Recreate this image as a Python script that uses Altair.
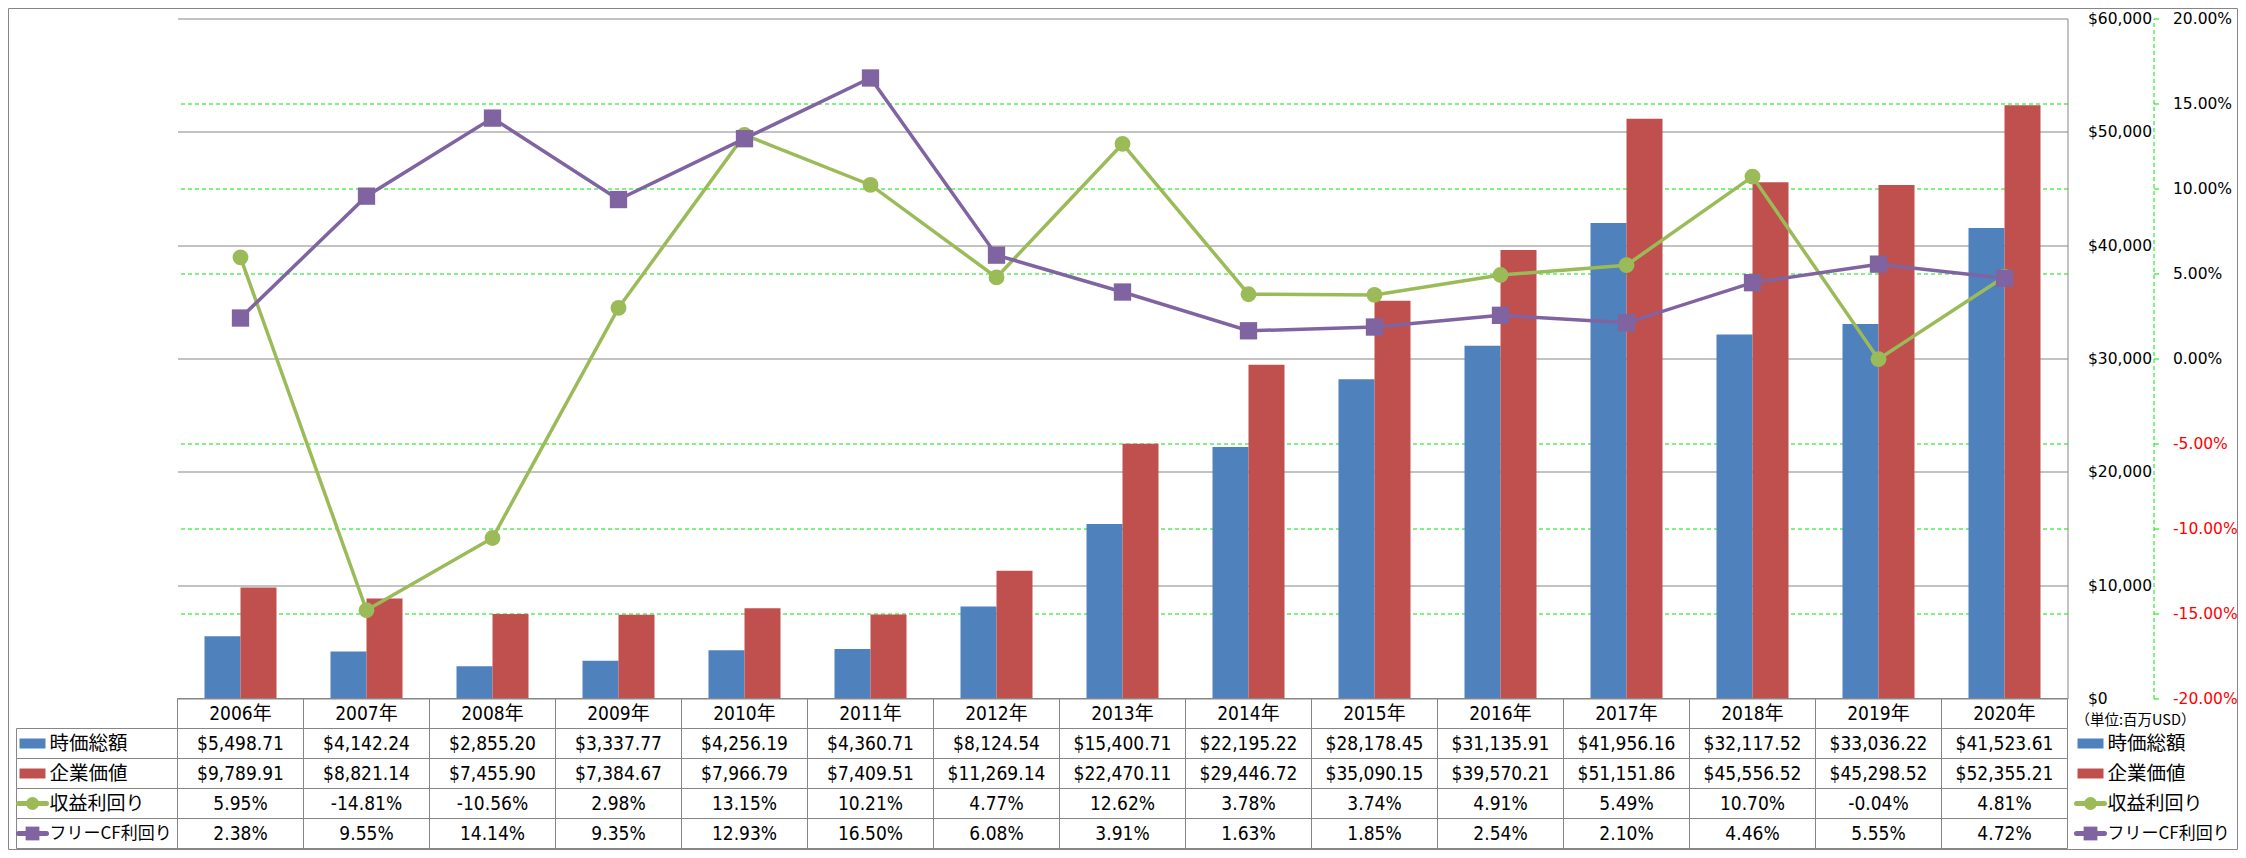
import altair as alt
import pandas as pd

# ---------------- data ----------------
years = ["2006年", "2007年", "2008年", "2009年", "2010年", "2011年", "2012年", "2013年",
         "2014年", "2015年", "2016年", "2017年", "2018年", "2019年", "2020年"]
market_cap = [5498.71, 4142.24, 2855.20, 3337.77, 4256.19, 4360.71, 8124.54, 15400.71,
              22195.22, 28178.45, 31135.91, 41956.16, 32117.52, 33036.22, 41523.61]
enterprise_value = [9789.91, 8821.14, 7455.90, 7384.67, 7966.79, 7409.51, 11269.14, 22470.11,
                    29446.72, 35090.15, 39570.21, 51151.86, 45556.52, 45298.52, 52355.21]
earnings_yield = [5.95, -14.81, -10.56, 2.98, 13.15, 10.21, 4.77, 12.62,
                  3.78, 3.74, 4.91, 5.49, 10.70, -0.04, 4.81]
fcf_yield = [2.38, 9.55, 14.14, 9.35, 12.93, 16.50, 6.08, 3.91,
             1.63, 1.85, 2.54, 2.10, 4.46, 5.55, 4.72]

S_MC, S_EV, S_EY, S_FCF = "時価総額", "企業価値", "収益利回り", "フリーCF利回り"
series_names = [S_MC, S_EV, S_EY, S_FCF]
series_colors = ["#4F81BD", "#C0504D", "#9BBB59", "#8064A2"]
usd_ticks = [0, 10000, 20000, 30000, 40000, 50000, 60000]
pct_ticks = [-0.2, -0.15, -0.1, -0.05, 0, 0.05, 0.1, 0.15, 0.2]
unit_label = "（単位:百万USD）"

# ---------------- tables ----------------
n = len(years)
bars_df = pd.DataFrame({
    "year": years * 2,
    "series": [S_MC] * n + [S_EV] * n,
    "value": market_cap + enterprise_value,
})
lines_df = pd.DataFrame({
    "year": years * 2,
    "series": [S_EY] * n + [S_FCF] * n,
    "value": [v / 100 for v in earnings_yield] + [v / 100 for v in fcf_yield],
})
ROW_KEYS = ["hdr"] + series_names
tab_rows, tab_years, tab_text = [], [], []
for i, y in enumerate(years):
    cells = [y, f"${market_cap[i]:,.2f}", f"${enterprise_value[i]:,.2f}",
             f"{earnings_yield[i]:.2f}%", f"{fcf_yield[i]:.2f}%"]
    for r, t in zip(ROW_KEYS, cells):
        tab_rows.append(r)
        tab_years.append(y)
        tab_text.append(t)
table_df = pd.DataFrame({"row": tab_rows, "year": tab_years, "text": tab_text})
label_df = pd.DataFrame({"row": series_names, "color": series_colors,
                         "kind": ["bar", "bar", "circle", "square"],
                         "fs": [19.5, 19.5, 19, 17]})
one_df = pd.DataFrame({"k": [0]})

# ---------------- style ----------------
W, H, TB = 1890, 680, 150
PT, PL = 10.5, 169.5
GRAY = "#868686"
GREEN = "#00e600"
FONT_NUM = "Liberation Sans Narrow, DejaVu Sans Condensed, Noto Sans CJK JP"
FONT_AX = "DejaVu Sans"
FONT_JP = "Noto Sans CJK JP"

x_scale = alt.Scale(type="band", domain=years, paddingInner=0, paddingOuter=0)
row_scale = alt.Scale(type="band", domain=ROW_KEYS, range=[H, H + TB], paddingInner=0, paddingOuter=0)
pct_scale = alt.Scale(domain=[-0.2, 0.2], nice=False)


def xband(center=False):
    if center:
        return alt.X("year:N", scale=x_scale, axis=None, bandPosition=0.5)
    return alt.X("year:N", scale=x_scale, axis=None)


def yrow(center=True):
    if center:
        return alt.Y("row:N", scale=row_scale, axis=None, bandPosition=0.5)
    return alt.Y("row:N", scale=row_scale, axis=None)


# ---------------- bars ($ axis) ----------------
usd_axis = alt.Axis(orient="right", values=usd_ticks, format="$,.0f", grid=True,
                    gridColor=GRAY, gridWidth=1, domain=True, domainColor=GRAY,
                    ticks=False, tickSize=0, labelPadding=20, labelFont=FONT_AX,
                    labelFontSize=15.5, labelColor="black", labelFlush=False,
                    labelOverlap=False, title=None, zindex=0)
bars = alt.Chart(bars_df).mark_bar().encode(
    x=xband(),
    xOffset=alt.XOffset("series:N", scale=alt.Scale(domain=[S_MC, S_EV], paddingInner=0, paddingOuter=0.75)),
    y=alt.Y("value:Q", scale=alt.Scale(domain=[0, 60000], nice=False), axis=usd_axis),
    color=alt.Color("series:N", scale=alt.Scale(domain=[S_MC, S_EV], range=series_colors[:2]), legend=None),
)

# ---------------- % axis and lines ----------------
pct_axis = alt.Axis(
    orient="right", offset=86, values=pct_ticks,
    labelExpr="replace(format(datum.value, '.2%'), '\u2212', '-')",
    grid=True, gridColor=GREEN, gridDash=[4, 3], gridWidth=1,
    gridOpacity={"condition": {"test": "abs(datum.value) < 0.001 || abs(datum.value) > 0.199", "value": 0}, "value": 1},
    domain=True, domainColor=GREEN, domainDash=[4, 3], domainWidth=1,
    ticks=True, tickColor=GREEN, tickSize=5, labelPadding=14,
    labelFont=FONT_AX, labelFontSize=15.5, labelFlush=False, labelOverlap=False,
    labelColor={"condition": {"test": "datum.value < -0.001", "value": "#ff0000"}, "value": "black"},
    title=None, zindex=0,
)
lbase = alt.Chart(lines_df)
ey = lbase.transform_filter(alt.datum.series == S_EY)
fcf = lbase.transform_filter(alt.datum.series == S_FCF)
ey_line = ey.mark_line(color=series_colors[2], strokeWidth=3.5).encode(
    x=xband(True), y=alt.Y("value:Q", scale=pct_scale, axis=pct_axis))
ey_pts = ey.mark_point(filled=True, opacity=1, shape="circle", size=250, color=series_colors[2]).encode(
    x=xband(True), y=alt.Y("value:Q", scale=pct_scale, axis=None))
fcf_line = fcf.mark_line(color=series_colors[3], strokeWidth=3.5).encode(
    x=xband(True), y=alt.Y("value:Q", scale=pct_scale, axis=None))
fcf_pts = fcf.mark_point(filled=True, opacity=1, shape="square", size=300, color=series_colors[3]).encode(
    x=xband(True), y=alt.Y("value:Q", scale=pct_scale, axis=None))

# ---------------- data table ----------------
cells = alt.Chart(table_df).mark_rect(fillOpacity=0, stroke=GRAY, strokeWidth=1).encode(
    x=xband(), y=yrow(False))
cell_text = alt.Chart(table_df).mark_text(font=FONT_NUM, fontSize=19, color="black",
                                          align="center", baseline="middle").encode(
    x=xband(True), y=yrow(), text="text:N")
label_cells = alt.Chart(label_df).mark_rect(fillOpacity=0, stroke=GRAY, strokeWidth=1).encode(
    x=alt.value(-161), x2=alt.value(0), y=yrow(False))


def legend_items(x0):
    base = alt.Chart(label_df)
    col = alt.Color("color:N", scale=None)
    rect_sym = base.transform_filter(alt.datum.kind == "bar").mark_rule(strokeWidth=10, strokeCap="butt").encode(
        x=alt.value(x0 + 2), x2=alt.value(x0 + 28), y=yrow(), color=col)
    line_sym = base.transform_filter(alt.datum.kind != "bar").mark_rule(strokeWidth=5, strokeCap="round").encode(
        x=alt.value(x0 + 1), x2=alt.value(x0 + 29), y=yrow(), color=col)
    circ = base.transform_filter(alt.datum.kind == "circle").mark_point(
        filled=True, opacity=1, shape="circle", size=170).encode(x=alt.value(x0 + 15), y=yrow(), color=col)
    sq = base.transform_filter(alt.datum.kind == "square").mark_point(
        filled=True, opacity=1, shape="square", size=190).encode(x=alt.value(x0 + 15), y=yrow(), color=col)
    txt = base.mark_text(font=FONT_JP, color="black", align="left", baseline="middle").encode(
        x=alt.value(x0 + 32), y=yrow(), text="row:N", size=alt.Size("fs:Q", scale=None))
    return [rect_sym, line_sym, circ, sq, txt]


unit_text = alt.Chart(one_df).mark_text(font=FONT_JP, fontSize=14.5, color="black",
                                        align="left", baseline="middle", text=unit_label).encode(
    x=alt.value(W + 8), y=alt.value(H + 22))

border = alt.Chart(one_df).mark_rect(fillOpacity=0, stroke=GRAY, strokeWidth=1).encode(
    x=alt.value(-169), x2=alt.value(W + 170), y=alt.value(-10), y2=alt.value(H + TB + 1))

chart = alt.layer(
    bars, ey_line, ey_pts, fcf_line, fcf_pts,
    cells, cell_text, label_cells, *legend_items(-160), *legend_items(W + 8), unit_text,
    border,
).resolve_scale(
    y="independent"
).properties(
    width=W, height=H,
    autosize=alt.AutoSizeParams(type="none"),
    padding={"left": PL, "top": PT, "right": 2230 - PL - W, "bottom": 842 - PT - H},
).configure_view(strokeOpacity=0)

chart.save("out.html", embed_options={"renderer": "svg", "actions": False})
